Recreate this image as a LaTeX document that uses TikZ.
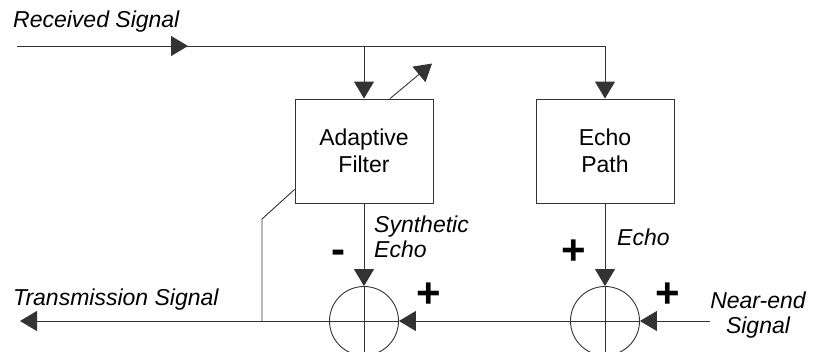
\documentclass[tikz,border=0pt]{standalone}
\usepackage{fontspec}
\setmainfont{Liberation Sans}
\usetikzlibrary{arrows.meta,positioning,calc,decorations.markings}
\definecolor{LineGray}{HTML}{333333}
\tikzset{
  blk/.style={rectangle,draw=LineGray,line width=0.9pt,minimum width=138pt,
              minimum height=104pt,align=center,inner sep=0pt,
              font=\fontsize{23}{27}\selectfont},
  sumj/.style={circle,draw=LineGray,line width=0.9pt,minimum size=69pt,inner sep=0pt},
  lbl/.style={font=\fontsize{23}{25}\selectfont\itshape,inner sep=0pt},
  sgn/.style={font=\fontsize{42}{42}\selectfont\bfseries,inner sep=0pt},
  sig/.style={-{Triangle[width=20pt,length=17pt]},line width=0.9pt,color=LineGray},
  wire/.style={line width=0.9pt,color=LineGray},
}

\begin{document}
\begin{tikzpicture}[x=1pt,y=-1pt]

  \useasboundingbox (0,0) rectangle (830,351);
  \clip (0,0) rectangle (830,351);

  \node[blk] (afilt) at (364,151){Adaptive\\Filter};
  \node[blk] (epath) at (605,151){Echo\\Path};
  \node[sumj] (sumL) at (364,321){};
  \node[sumj] (sumR) at (605,321){};

  \coordinate (rsIn) at (17,46);
  \coordinate (neIn) at (710,321);
  \coordinate (txOut) at (20,321);
  \coordinate (tap) at (262,321);

  % received signal path
  \draw[sig,postaction={decorate},decoration={markings,
        mark=at position 171pt with {\arrow{Triangle[width=20pt,length=17pt]}}}]
    (rsIn) -- (epath.north |- rsIn) -- (epath.north);
  \draw[sig] (afilt.north |- rsIn) -- (afilt.north);
  \draw[sig] ([xshift=26pt]afilt.north) -- ++(42,-35);

  % echo and synthetic echo
  \draw[sig] (afilt.south) -- (sumL.north);
  \draw[sig] (epath.south) -- (sumR.north);
  \draw[wire] (sumL.north) -- (sumL.south) (sumR.north) -- (sumR.south);

  % near-end and transmission
  \draw[sig] (neIn) -- (sumR.east);
  \draw[wire] (sumR.east) -- (sumR.west);
  \draw[sig] (sumR.west) -- (sumL.east);
  \draw[wire] (sumL.east) -- (sumL.west);
  \draw[sig] (sumL.west) -- (txOut);

  % error feedback to the filter
  \draw[wire] (tap) -- (262,219) -- ([yshift=14pt]afilt.south west);

  \node[lbl,anchor=west] (rsLbl) at (13,22){Received Signal};
  \node[lbl,anchor=west] (txLbl) at (13,300){Transmission Signal};
  \node[lbl,anchor=west,align=left] (seLbl) at (374,237){Synthetic\\Echo};
  \node[lbl,anchor=west] (ecLbl) at (617,237){Echo};
  \node[lbl,align=center] (neLbl) at (758,315){Near-end\\Signal};

  \node[sgn] (mnL) at (338,257){-};
  \node[sgn] (plL) at (429,295){+};
  \node[sgn] (plE) at (574,252){+};
  \node[sgn] (plR) at (668,295){+};

\end{tikzpicture}
\end{document}
